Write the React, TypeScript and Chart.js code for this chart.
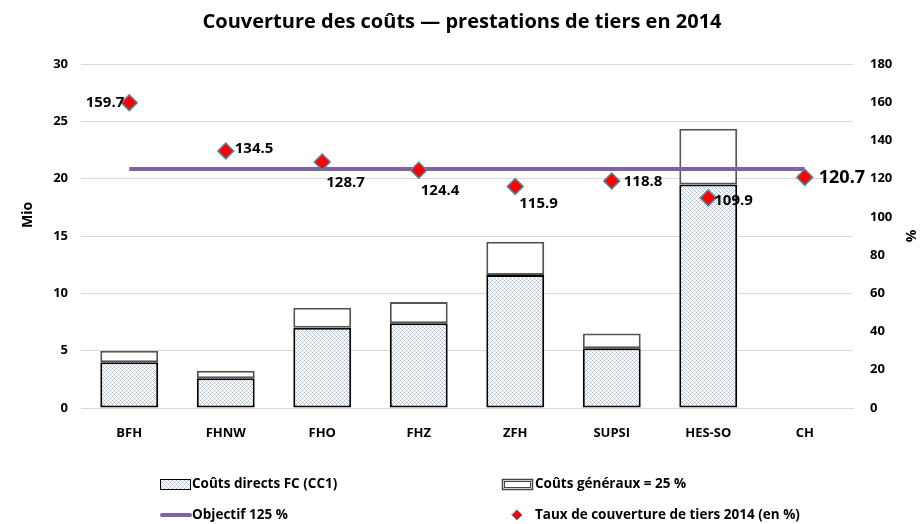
import React, { useEffect, useRef } from "react";
import { Chart, registerables } from "chart.js";

Chart.register(...registerables);

const categories = ["BFH", "FHNW", "FHO", "FHZ", "ZFH", "SUPSI", "HES-SO", "CH"];
const directCosts = [4.0, 2.6, 7.0, 7.4, 11.6, 5.2, 19.5, 0];
const generalCosts = [1.0, 0.65, 1.75, 1.85, 2.9, 1.3, 4.85, 0];
const objective = [125, 125, 125, 125, 125, 125, 125, 125];
const coverage = [159.7, 134.5, 128.7, 124.4, 115.9, 118.8, 109.9, 120.7];
const leftTicks = [0, 5, 10, 15, 20, 25, 30];
const rightTicks = [0, 20, 40, 60, 80, 100, 120, 140, 160, 180];

const TITLE = "Couverture des coûts — prestations de tiers en 2014";
const FONT = "'Open Sans', 'Noto Sans', sans-serif";

// label placement: [dx, dy, align]
const labelPlacement: [number, number, CanvasTextAlign][] = [
  [-5, 0, "right"],
  [9, -2, "left"],
  [4, 21, "left"],
  [2, 20, "left"],
  [4, 17, "left"],
  [12, 1, "left"],
  [6, 3, "left"],
  [14, 1, "left"],
];

function makePattern(): CanvasPattern | string {
  const c = document.createElement("canvas");
  c.width = 4;
  c.height = 4;
  const g = c.getContext("2d");
  if (!g) return "#c5d5ee";
  g.fillStyle = "#ffffff";
  g.fillRect(0, 0, 4, 4);
  g.fillStyle = "#a3bbe2";
  g.fillRect(0, 0, 1, 1);
  g.fillRect(2, 2, 1, 1);
  g.fillStyle = "#c6d5f0";
  g.fillRect(1, 1, 1, 1);
  g.fillRect(3, 3, 1, 1);
  g.fillRect(1, 3, 1, 1);
  g.fillRect(3, 1, 1, 1);
  const p = g.createPattern(c, "repeat");
  return p || "#c5d5ee";
}

export default function App() {
  const ref = useRef<HTMLCanvasElement | null>(null);

  useEffect(() => {
    document.body.style.margin = "0";
    const canvas = ref.current;
    if (!canvas) return;
    const pattern = makePattern();

    const extras = {
      id: "extras",
      afterDraw(chart: any) {
        const ctx = chart.ctx as CanvasRenderingContext2D;
        ctx.save();
        // title
        ctx.fillStyle = "#000";
        ctx.font = `bold 20px ${FONT}`;
        ctx.textAlign = "center";
        ctx.textBaseline = "middle";
        ctx.fillText(TITLE, 462, 22);
        // axis titles
        ctx.font = `bold 14px ${FONT}`;
        ctx.save();
        ctx.translate(28, 215);
        ctx.rotate(-Math.PI / 2);
        ctx.fillText("Mio", 0, 0);
        ctx.restore();
        ctx.save();
        ctx.translate(912, 236);
        ctx.rotate(-Math.PI / 2);
        ctx.fillText("%", 0, 0);
        ctx.restore();

        // point labels
        const meta = chart.getDatasetMeta(3);
        meta.data.forEach((pt: any, i: number) => {
          const [dx, dy, al] = labelPlacement[i];
          ctx.font = i === 7 ? `bold 18px ${FONT}` : `bold 15px ${FONT}`;
          ctx.textAlign = al;
          ctx.textBaseline = "middle";
          ctx.fillStyle = "#000";
          ctx.fillText(coverage[i].toFixed(1), pt.x + dx, pt.y + dy);
        });

        // legend
        ctx.font = `bold 13.5px ${FONT}`;
        ctx.textAlign = "left";
        ctx.textBaseline = "middle";
        const row1 = 484;
        const row2 = 515;
        // direct costs swatch
        ctx.fillStyle = pattern as any;
        ctx.fillRect(160, row1 - 5, 30, 10);
        ctx.strokeStyle = "#000";
        ctx.lineWidth = 1;
        ctx.strokeRect(160.5, row1 - 4.5, 30, 10);
        ctx.fillStyle = "#000";
        ctx.fillText("Coûts directs FC (CC1)", 192, row1);
        // general costs swatch
        ctx.fillStyle = "#fff";
        ctx.fillRect(502, row1 - 5, 30, 10);
        ctx.strokeStyle = "#444";
        ctx.lineWidth = 1.5;
        ctx.strokeRect(502.5, row1 - 4.5, 30, 10);
        ctx.lineWidth = 1;
        ctx.strokeRect(504.5, row1 - 2.5, 26, 6);
        ctx.fillStyle = "#000";
        ctx.fillText("Coûts généraux = 25 %", 535, row1);
        // objective line
        ctx.strokeStyle = "#7f62a6";
        ctx.lineWidth = 4;
        ctx.lineCap = "round";
        ctx.beginPath();
        ctx.moveTo(162, row2);
        ctx.lineTo(190, row2);
        ctx.stroke();
        ctx.fillStyle = "#000";
        ctx.fillText("Objectif 125 %", 192, row2);
        // diamond
        ctx.fillStyle = "#ff0000";
        ctx.strokeStyle = "#4d8fa0";
        ctx.lineWidth = 1;
        ctx.beginPath();
        ctx.moveTo(517, row2 - 5);
        ctx.lineTo(522, row2);
        ctx.lineTo(517, row2 + 5);
        ctx.lineTo(512, row2);
        ctx.closePath();
        ctx.fill();
        ctx.stroke();
        ctx.fillStyle = "#000";
        ctx.fillText("Taux de couverture de tiers 2014 (en %)", 535, row2);
        ctx.restore();
      },
    };

    const chart = new Chart(canvas, {
      type: "bar",
      data: {
        labels: categories,
        datasets: [
          {
            type: "line",
            label: "Objectif 125 %",
            data: objective,
            yAxisID: "y1",
            borderColor: "#7f62a6",
            borderWidth: 4,
            pointRadius: 0,
            fill: false,
            order: 1,
          } as any,
          {
            type: "bar",
            label: "Coûts directs FC (CC1)",
            data: directCosts,
            yAxisID: "y",
            stack: "s",
            backgroundColor: pattern as any,
            borderColor: "#000",
            borderWidth: 2,
            borderSkipped: false,
            barPercentage: 0.6,
            categoryPercentage: 1,
            order: 3,
          },
          {
            type: "bar",
            label: "Coûts généraux = 25 %",
            data: generalCosts,
            yAxisID: "y",
            stack: "s",
            backgroundColor: "#fff",
            borderColor: "#555",
            borderWidth: 2,
            borderSkipped: false,
            barPercentage: 0.6,
            categoryPercentage: 1,
            order: 3,
          },
          {
            type: "line",
            label: "Taux de couverture de tiers 2014 (en %)",
            data: coverage,
            yAxisID: "y1",
            showLine: false,
            pointStyle: "rectRot",
            pointRadius: 8,
            pointBackgroundColor: "#ff0000",
            pointBorderColor: "#4d8fa0",
            pointBorderWidth: 1.5,
            order: 0,
          } as any,
        ],
      },
      options: {
        animation: false,
        responsive: false,
        layout: { padding: { top: 64, left: 0, right: 0, bottom: 0 } },
        plugins: {
          legend: { display: false },
          title: { display: false },
          tooltip: { enabled: false },
        },
        scales: {
          x: {
            stacked: true,
            grid: { display: false, drawTicks: false },
            border: { color: "#d9d9d9", width: 1 },
            ticks: {
              padding: 17,
              color: "#000",
              font: { family: FONT, size: 13, weight: "bold" },
            },
            afterFit(scale: any) {
              scale.height = 116;
            },
          },
          y: {
            position: "left",
            stacked: true,
            min: 0,
            max: 30,
            afterBuildTicks(scale: any) {
              scale.ticks = leftTicks.map((v) => ({ value: v }));
            },
            grid: { color: "#d9d9d9", drawTicks: false },
            border: { display: false },
            ticks: {
              padding: 13,
              color: "#000",
              font: { family: FONT, size: 13, weight: "bold" },
            },
            afterFit(scale: any) {
              scale.width = 81;
            },
          },
          y1: {
            position: "right",
            min: 0,
            max: 180,
            afterBuildTicks(scale: any) {
              scale.ticks = rightTicks.map((v) => ({ value: v }));
            },
            grid: { display: false, drawTicks: false },
            border: { display: false },
            ticks: {
              padding: 17,
              color: "#000",
              font: { family: FONT, size: 13, weight: "bold" },
            },
            afterFit(scale: any) {
              scale.width = 71;
            },
          },
        },
      },
      plugins: [extras],
    });

    return () => chart.destroy();
  }, []);

  return <canvas ref={ref} width={924} height={524} style={{ display: "block" }} />;
}
